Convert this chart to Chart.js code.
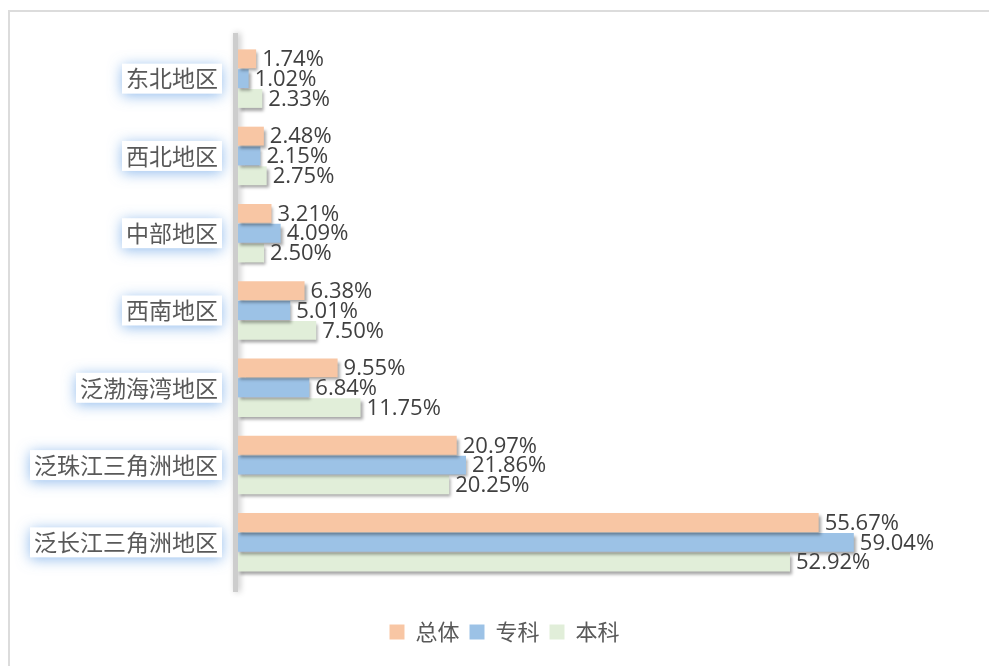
<!DOCTYPE html>
<html>
<head>
<meta charset="utf-8">
<script src="https://cdn.jsdelivr.net/npm/chart.js@4"></script>
<style>
  body { margin: 0; background: #fff; }
  #wrap { position: relative; width: 989px; height: 666px; }
  #frame { position: absolute; left: 8px; top: 10px; right: 0; bottom: 0; border-top: 2px solid #dcdcdc; border-left: 2px solid #dcdcdc; }
  #chart { position: absolute; left: 0; top: 0; }
</style>
</head>
<body>
<div id="wrap">
  <div id="frame"></div>
  <canvas id="chart" width="989" height="666"></canvas>
</div>
<script>
// 地区
const regions = ['东北地区', '西北地区', '中部地区', '西南地区', '泛渤海湾地区', '泛珠江三角洲地区', '泛长江三角洲地区'];
// 各系列 (%)
const totalData = [1.74, 2.48, 3.21, 6.38, 9.55, 20.97, 55.67];
const juniorData = [1.02, 2.15, 4.09, 5.01, 6.84, 21.86, 59.04];
const bachelorData = [2.33, 2.75, 2.50, 7.50, 11.75, 20.25, 52.92];
const seriesNames = ['总体', '专科', '本科'];

const tickFont = { family: '"Noto Sans CJK SC", sans-serif', size: 23 };
const labelFont = '22px "Open Sans", "Noto Sans", sans-serif';

// ラベル背後の青い光・軸線・棒の影・データラベル
const glowPlugin = {
    id: 'glow',
    beforeDraw(chart) {
        const y = chart.scales.y;
        const ctx = chart.ctx;
        ctx.save();
        ctx.font = `${tickFont.size}px ${tickFont.family}`;
        regions.forEach((r, i) => {
            const py = y.getPixelForTick(i);
            const w = ctx.measureText(r).width;
            ctx.shadowColor = 'rgba(100,160,230,0.7)';
            ctx.shadowBlur = 14;
            ctx.shadowOffsetY = 2;
            ctx.fillStyle = '#fff';
            ctx.fillRect(y.right - 20 - w - 4, py - 15, w + 8, 30);
        });
        ctx.restore();
    },
    beforeDatasetsDraw(chart) {
        const ctx = chart.ctx;
        const area = chart.chartArea;
        // 縦軸の線
        ctx.save();
        ctx.shadowColor = 'rgba(0,0,0,0.25)';
        ctx.shadowBlur = 6;
        ctx.shadowOffsetX = 2;
        ctx.fillStyle = '#cdcdcd';
        ctx.fillRect(area.left - 5, area.top - 7, 5, area.bottom - area.top + 18);
        ctx.restore();
        // 棒の影
        ctx.save();
        ctx.shadowColor = 'rgba(0,0,0,0.35)';
        ctx.shadowBlur = 3;
        ctx.shadowOffsetX = 2;
        ctx.shadowOffsetY = 3;
    },
    afterDatasetsDraw(chart) {
        const ctx = chart.ctx;
        ctx.restore();
        ctx.save();
        ctx.font = labelFont;
        ctx.fillStyle = '#404040';
        ctx.textAlign = 'left';
        ctx.textBaseline = 'middle';
        chart.data.datasets.forEach((ds, di) => {
            const meta = chart.getDatasetMeta(di);
            meta.data.forEach((bar, i) => {
                ctx.fillText(ds.data[i].toFixed(2) + '%', bar.x + 6, bar.y + 1);
            });
        });
        ctx.restore();
    }
};

function initChart() {
    const ctx = document.getElementById('chart').getContext('2d');
    new Chart(ctx, {
        type: 'bar',
        data: {
            labels: regions,
            datasets: [
                { label: seriesNames[0], data: totalData, backgroundColor: '#f8c6a4' },
                { label: seriesNames[1], data: juniorData, backgroundColor: '#9cc2e6' },
                { label: seriesNames[2], data: bachelorData, backgroundColor: '#e1eed9' }
            ]
        },
        options: {
            indexAxis: 'y',
            responsive: false,
            animation: false,
            categoryPercentage: 0.77,
            barPercentage: 0.95,
            layout: { padding: { top: 40, right: 0, bottom: 13, left: 20 } },
            plugins: {
                tooltip: { enabled: false },
                legend: {
                    position: 'bottom',
                    labels: {
                        boxWidth: 15,
                        boxHeight: 15,
                        padding: 10,
                        color: '#595959',
                        font: { family: '"Noto Sans CJK SC", sans-serif', size: 22 }
                    }
                }
            },
            scales: {
                x: {
                    min: 0, max: 72,
                    afterFit(scale) { scale.height = 30; },
                    grid: { display: false },
                    border: { display: false },
                    ticks: { display: false }
                },
                y: {
                    afterFit(scale) { scale.width = 218; },
                    grid: { display: false, drawTicks: false },
                    border: { display: false },
                    ticks: { color: '#595959', font: tickFont, padding: 20 }
                }
            }
        },
        plugins: [glowPlugin]
    });
}

window.addEventListener('load', () => {
    initChart();
});
</script>
</body>
</html>
